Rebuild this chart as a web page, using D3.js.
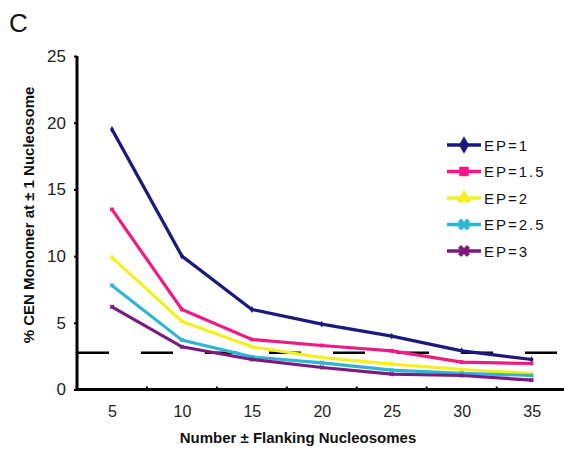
<!DOCTYPE html>
<html><head><meta charset="utf-8">
<script src="https://cdn.jsdelivr.net/npm/d3@7"></script>
<style>body{margin:0;background:#fff}svg{display:block}</style>
</head><body>
<svg id="c" width="564" height="451"></svg>
<script>
const categories = [5, 10, 15, 20, 25, 30, 35];
const seriesNames = ["EP=1", "EP=1.5", "EP=2", "EP=2.5", "EP=3"];
const ep1 = [19.5, 10.0, 6.0, 4.9, 4.0, 2.9, 2.25];
const ep15 = [13.5, 6.0, 3.75, 3.3, 2.9, 2.05, 1.95];
const ep2 = [9.9, 5.1, 3.2, 2.4, 1.9, 1.5, 1.2];
const ep25 = [7.8, 3.7, 2.45, 2.0, 1.45, 1.22, 1.05];
const ep3 = [6.2, 3.2, 2.25, 1.65, 1.15, 1.05, 0.7];
const yTicks = [0, 5, 10, 15, 20, 25];
const thresholdValue = 2.75;
const colors = ["#1b1a7c", "#ef1a83", "#f4f01e", "#2fb4d4", "#7b1a7c"];
const markers = ["diamond", "square", "triangle", "x", "x"];
const seriesValues = [ep1, ep15, ep2, ep25, ep3];

const svg = d3.select("#c");
const x = d3.scalePoint().domain(categories).range([77, 566.6]).padding(0.5);
const y = d3.scaleLinear().domain([0, 25]).range([389.5, 56]);

svg.append("text").attr("x", 9).attr("y", 32).attr("font-family", "Liberation Sans, Arial, sans-serif")
  .attr("font-size", 26).attr("fill", "#111").text("C");

svg.append("line").attr("x1", 77).attr("x2", 558).attr("y1", y(thresholdValue)).attr("y2", y(thresholdValue))
  .attr("stroke", "#000").attr("stroke-width", 2.5).attr("stroke-dasharray", "32,32");

const symType = {diamond: d3.symbolDiamond, square: d3.symbolSquare, triangle: d3.symbolTriangle, x: d3.symbolCross};
const rot = {diamond: 0, square: 0, triangle: 0, x: 45};
const line = d3.line().x((d, i) => x(categories[i])).y(d => y(d));
seriesValues.forEach((vals, k) => {
  svg.append("path").attr("d", line(vals)).attr("fill", "none").attr("stroke", colors[k]).attr("stroke-width", 3.2)
    .attr("stroke-linejoin", "miter");
  svg.selectAll(null).data(vals).enter().append("path")
    .attr("transform", (d, i) => `translate(${x(categories[i])},${y(d)}) rotate(${rot[markers[k]]})`)
    .attr("d", d3.symbol().type(symType[markers[k]]).size(14)).attr("fill", colors[k]);
});

const yAxis = d3.axisLeft(y).tickValues(yTicks).tickSize(3).tickPadding(8);
const gy = svg.append("g").attr("transform", "translate(77,0)").call(yAxis);
gy.select(".domain").attr("stroke", "#000").attr("stroke-width", 3).attr("d", `M0,${y(25)}V${y(0)+1.5}`);
gy.selectAll(".tick line").attr("stroke", "#000").attr("stroke-width", 2);
gy.selectAll(".tick text").attr("font-family", "Liberation Sans, Arial, sans-serif").attr("font-size", 17).attr("fill", "#222");

const xAxis = d3.axisBottom(x).tickSize(0).tickPadding(16);
const gx = svg.append("g").attr("transform", `translate(0,${y(0)})`).call(xAxis);
gx.select(".domain").attr("stroke", "#000").attr("stroke-width", 3).attr("d", "M76,0H564");
gx.selectAll(".tick text").attr("font-family", "Liberation Sans, Arial, sans-serif").attr("font-size", 16).attr("fill", "#222");
const step = x.step();
gx.selectAll(".sep").data(categories.slice(1)).enter().append("line")
  .attr("x1", d => x(d) - step / 2).attr("x2", d => x(d) - step / 2).attr("y1", 0).attr("y2", -3)
  .attr("stroke", "#000").attr("stroke-width", 2);

svg.append("text").attr("x", 298).attr("y", 443).attr("text-anchor", "middle")
  .attr("font-family", "Liberation Sans, Arial, sans-serif").attr("font-weight", "bold").attr("font-size", 15).attr("fill", "#111")
  .text("Number ± Flanking Nucleosomes");
svg.append("text").attr("transform", "translate(34,215) rotate(-90)").attr("text-anchor", "middle")
  .attr("font-family", "Liberation Sans, Arial, sans-serif").attr("font-weight", "bold").attr("font-size", 15).attr("fill", "#111")
  .text("% CEN Monomer at ± 1 Nucleosome");

const lg = svg.append("g");
seriesNames.forEach((name, k) => {
  const ly = 145 + k * 26.5;
  lg.append("line").attr("x1", 447).attr("x2", 481).attr("y1", ly).attr("y2", ly).attr("stroke", colors[k]).attr("stroke-width", 3.5);
  lg.append("path").attr("transform", `translate(464,${ly}) rotate(${rot[markers[k]]})`)
    .attr("d", d3.symbol().type(symType[markers[k]]).size(90)).attr("fill", colors[k]);
  lg.append("text").attr("x", 484).attr("y", ly + 5.5).attr("font-family", "Liberation Sans, Arial, sans-serif")
    .attr("font-size", 15).attr("letter-spacing", 2).attr("fill", "#111").text(name);
});
</script>
</body></html>
